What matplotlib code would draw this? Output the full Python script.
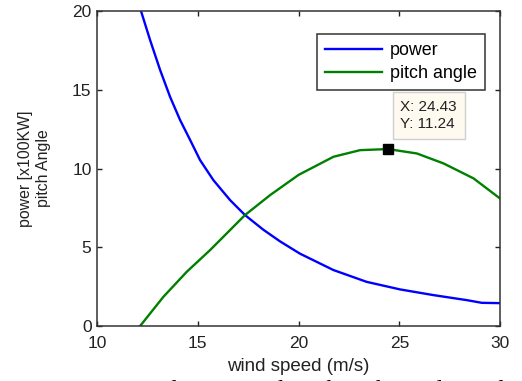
import matplotlib
matplotlib.use("Agg")
import matplotlib.pyplot as plt

plt.rcParams['font.family'] = ['Liberation Sans', 'DejaVu Sans']

# values
power_speed = [12.18, 12.63, 13.13, 13.62, 14.12, 14.62, 15.11, 15.77, 16.6, 17.34,
               18.25, 19.08, 20.07, 21.73, 23.38, 25.04, 26.69, 28.35, 29.09, 30.0]
power = [20.0, 18.16, 16.25, 14.56, 13.08, 11.81, 10.54, 9.27, 8.0, 7.05,
         6.12, 5.38, 4.6, 3.56, 2.81, 2.33, 1.97, 1.65, 1.48, 1.46]

pitch_speed = [12.13, 13.29, 14.45, 15.61, 16.6, 17.34, 18.59, 20.0, 21.73,
               23.05, 24.43, 25.87, 27.19, 28.68, 30.0]
pitch = [0.0, 1.86, 3.45, 4.83, 6.1, 7.05, 8.32, 9.6, 10.75,
         11.17, 11.24, 10.96, 10.33, 9.38, 8.1]

tip_x, tip_y = 24.43, 11.24

xticks = [10, 15, 20, 25, 30]
yticks = [0, 5, 10, 15, 20]

fig = plt.figure(figsize=(5.22, 3.81), dpi=100)
ax = fig.add_axes([0.186, 0.144, 0.772, 0.827])

ax.plot(power_speed, power, color=(0, 0, 1), lw=1.7, label='power')
ax.plot(pitch_speed, pitch, color=(0, 0.5, 0), lw=1.7, label='pitch angle')

# data tip
ax.plot([tip_x], [tip_y], 's', color='black', ms=7, zorder=5)
ax.text(25.05, 14.35, 'X: %.2f\nY: %.2f' % (tip_x, tip_y), fontsize=11,
        va='top', ha='left', color='#222222', linespacing=1.3,
        bbox=dict(boxstyle='square,pad=0.5', fc='#fffaf0', ec='#d0d0d0', lw=1))

ax.set_xlim(10, 30)
ax.set_ylim(0, 20)
ax.set_xticks(xticks)
ax.set_yticks(yticks)
ax.tick_params(direction='in', length=3.5, width=1, top=True, right=True,
               labelsize=12.5, colors='#222222')
ax.tick_params(axis='x', pad=7)
ax.tick_params(axis='y', pad=4)
for s in ax.spines.values():
    s.set_color('#333333')
    s.set_linewidth(1.1)

ax.set_xlabel('wind speed (m/s)', fontsize=13.5, color='#222222', labelpad=5)
ax.set_ylabel('power [x100KW]\npitch Angle', fontsize=11.4, color='#222222',
              labelpad=15, linespacing=1.3)

leg = ax.legend(loc='upper right', bbox_to_anchor=(0.963, 0.926), borderaxespad=0,
                fontsize=12.9, handlelength=3.2, handletextpad=0.45, labelspacing=0.3,
                borderpad=0.45, fancybox=False, framealpha=1, edgecolor='#333333')
leg.get_frame().set_linewidth(1.1)

# partial caption cut by the bottom edge
fig.text(-0.015, 0.003, 'Fig. 3. Variation of power and pitch with wind speed',
         fontsize=17.5, family='Liberation Serif', va='top', ha='left')

fig.savefig('out.png', dpi=100)
